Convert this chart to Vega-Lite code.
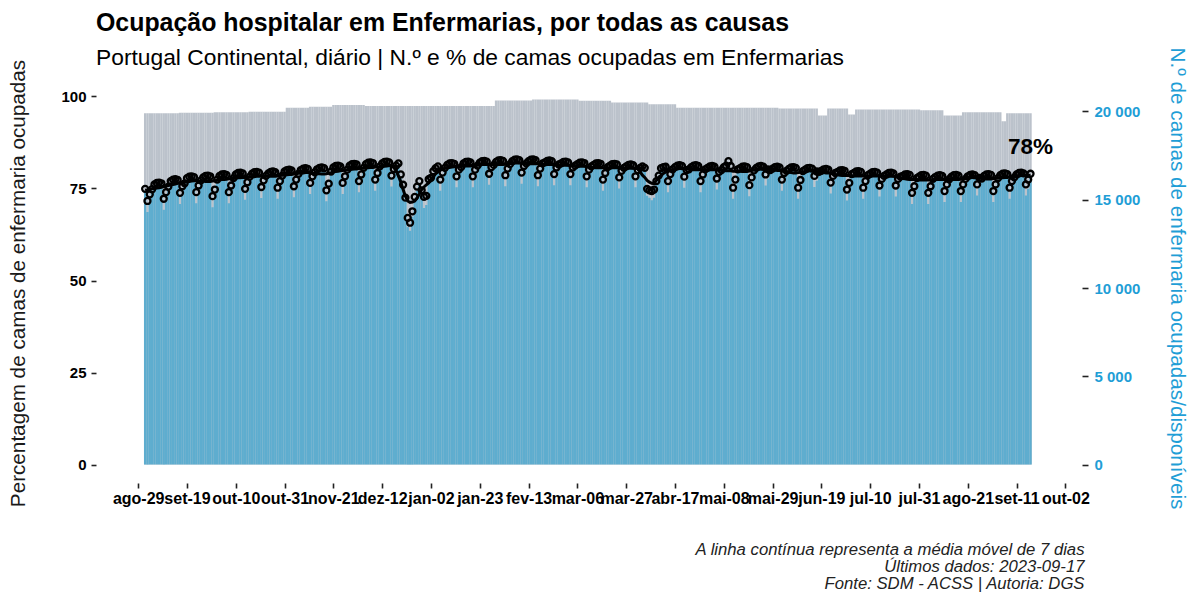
{
"$schema":"https://vega.github.io/schema/vega-lite/v6.json",
"width":986,"height":405,
"autosize":{"type":"none"},
"padding":{"left":96,"top":78,"right":106,"bottom":111},
"background":"white",
"config":{"view":{"stroke":null},"font":"Liberation Sans",
"axis":{"domain":false,"grid":false,"tickColor":"#222222","tickWidth":1.6,"labelFont":"Liberation Sans","titleFont":"Liberation Sans"},
"axisLeft":{"labelColor":"black","labelFontWeight":"bold","labelFontSize":15,"tickSize":5,"labelPadding":5,"titleColor":"#1a1a1a","titleFontSize":20.7,"titleFontWeight":"normal","titleAngle":-90,"titleAlign":"center","titleBaseline":"middle","titleX":-78,"titleY":205},
"axisRight":{"labelColor":"#1F9ED6","labelFontWeight":"bold","labelFontSize":15,"tickSize":6,"labelPadding":6,"titleColor":"#1F9ED6","titleFontSize":20.7,"titleFontWeight":"normal","titleAngle":90,"titleAlign":"center","titleBaseline":"middle","titleX":94,"titleY":200}},
"title":{"text":"Ocupação hospitalar em Enfermarias, por todas as causas","subtitle":"Portugal Continental, diário | N.º e % de camas ocupadas em Enfermarias","anchor":"start","frame":"group","font":"Liberation Sans","fontSize":24.9,"fontWeight":"bold","color":"black","subtitleFont":"Liberation Sans","subtitleFontSize":22.8,"subtitleColor":"black","offset":-23,"subtitlePadding":11},
"data":{"values":[
{"d":"2022-09-01","a":19900,"o":15450,"p":74.9,"m":74.5},
{"d":"2022-09-02","a":19900,"o":14303,"p":71.6,"m":74.6},
{"d":"2022-09-03","a":19900,"o":14783,"p":73.4,"m":74.7},
{"d":"2022-09-04","a":19900,"o":15387,"p":74.8,"m":74.9},
{"d":"2022-09-05","a":19900,"o":15742,"p":76.1,"m":75.0},
{"d":"2022-09-06","a":19900,"o":15742,"p":76.5,"m":75.1},
{"d":"2022-09-07","a":19900,"o":15742,"p":76.6,"m":75.2},
{"d":"2022-09-08","a":19900,"o":15742,"p":76.4,"m":75.3},
{"d":"2022-09-09","a":19900,"o":14428,"p":72.2,"m":75.5},
{"d":"2022-09-10","a":19900,"o":14908,"p":74.0,"m":75.6},
{"d":"2022-09-11","a":19900,"o":15533,"p":75.5,"m":75.8},
{"d":"2022-09-12","a":19900,"o":15929,"p":77.0,"m":75.9},
{"d":"2022-09-13","a":19900,"o":15929,"p":77.4,"m":76.1},
{"d":"2022-09-14","a":19900,"o":15929,"p":77.5,"m":76.2},
{"d":"2022-09-15","a":19900,"o":15929,"p":77.3,"m":76.4},
{"d":"2022-09-16","a":19920,"o":14762,"p":73.8,"m":76.5},
{"d":"2022-09-17","a":19920,"o":15241,"p":75.6,"m":76.6},
{"d":"2022-09-18","a":19920,"o":15721,"p":76.4,"m":76.7},
{"d":"2022-09-19","a":19920,"o":16096,"p":77.8,"m":76.8},
{"d":"2022-09-20","a":19920,"o":16096,"p":78.2,"m":76.9},
{"d":"2022-09-21","a":19920,"o":16096,"p":78.3,"m":77.0},
{"d":"2022-09-22","a":19920,"o":16096,"p":78.1,"m":77.1},
{"d":"2022-09-23","a":19920,"o":14804,"p":74.0,"m":77.1},
{"d":"2022-09-24","a":19920,"o":15283,"p":75.8,"m":77.0},
{"d":"2022-09-25","a":19920,"o":15888,"p":77.2,"m":77.0},
{"d":"2022-09-26","a":19920,"o":16138,"p":78.0,"m":77.0},
{"d":"2022-09-27","a":19920,"o":16138,"p":78.4,"m":76.9},
{"d":"2022-09-28","a":19920,"o":16138,"p":78.5,"m":76.9},
{"d":"2022-09-29","a":19920,"o":16138,"p":78.3,"m":76.9},
{"d":"2022-09-30","a":19920,"o":14574,"p":72.9,"m":77.0},
{"d":"2022-10-01","a":19950,"o":15054,"p":74.7,"m":77.1},
{"d":"2022-10-02","a":19950,"o":15929,"p":77.4,"m":77.2},
{"d":"2022-10-03","a":19950,"o":16221,"p":78.4,"m":77.3},
{"d":"2022-10-04","a":19950,"o":16221,"p":78.8,"m":77.4},
{"d":"2022-10-05","a":19950,"o":16221,"p":78.9,"m":77.4},
{"d":"2022-10-06","a":19950,"o":16221,"p":78.7,"m":77.5},
{"d":"2022-10-07","a":19950,"o":14804,"p":74.0,"m":77.6},
{"d":"2022-10-08","a":19950,"o":15283,"p":75.8,"m":77.7},
{"d":"2022-10-09","a":19950,"o":16013,"p":77.8,"m":77.7},
{"d":"2022-10-10","a":19950,"o":16305,"p":78.8,"m":77.8},
{"d":"2022-10-11","a":19950,"o":16305,"p":79.2,"m":77.9},
{"d":"2022-10-12","a":19950,"o":16305,"p":79.3,"m":77.9},
{"d":"2022-10-13","a":19950,"o":16305,"p":79.1,"m":78.0},
{"d":"2022-10-14","a":19950,"o":14991,"p":74.9,"m":78.0},
{"d":"2022-10-15","a":19950,"o":15471,"p":76.7,"m":78.1},
{"d":"2022-10-16","a":19980,"o":16096,"p":78.2,"m":78.1},
{"d":"2022-10-17","a":19980,"o":16346,"p":79.0,"m":78.2},
{"d":"2022-10-18","a":19980,"o":16346,"p":79.4,"m":78.2},
{"d":"2022-10-19","a":19980,"o":16346,"p":79.5,"m":78.3},
{"d":"2022-10-20","a":19980,"o":16346,"p":79.3,"m":78.3},
{"d":"2022-10-21","a":19980,"o":15095,"p":75.4,"m":78.3},
{"d":"2022-10-22","a":19980,"o":15575,"p":77.2,"m":78.3},
{"d":"2022-10-23","a":19980,"o":16138,"p":78.4,"m":78.3},
{"d":"2022-10-24","a":19980,"o":16367,"p":79.1,"m":78.3},
{"d":"2022-10-25","a":19980,"o":16367,"p":79.5,"m":78.3},
{"d":"2022-10-26","a":19980,"o":16367,"p":79.6,"m":78.3},
{"d":"2022-10-27","a":19980,"o":16367,"p":79.4,"m":78.3},
{"d":"2022-10-28","a":19980,"o":15054,"p":75.2,"m":78.4},
{"d":"2022-10-29","a":19980,"o":15533,"p":77.0,"m":78.5},
{"d":"2022-10-30","a":19980,"o":16159,"p":78.5,"m":78.6},
{"d":"2022-10-31","a":19980,"o":16472,"p":79.6,"m":78.6},
{"d":"2022-11-01","a":20210,"o":16472,"p":80.0,"m":78.7},
{"d":"2022-11-02","a":20210,"o":16472,"p":80.1,"m":78.8},
{"d":"2022-11-03","a":20210,"o":16472,"p":79.9,"m":78.8},
{"d":"2022-11-04","a":20210,"o":15137,"p":75.6,"m":78.9},
{"d":"2022-11-05","a":20210,"o":15617,"p":77.4,"m":79.0},
{"d":"2022-11-06","a":20210,"o":16263,"p":79.0,"m":79.1},
{"d":"2022-11-07","a":20210,"o":16555,"p":80.0,"m":79.1},
{"d":"2022-11-08","a":20210,"o":16555,"p":80.4,"m":79.2},
{"d":"2022-11-09","a":20210,"o":16555,"p":80.5,"m":79.3},
{"d":"2022-11-10","a":20210,"o":16555,"p":80.3,"m":79.3},
{"d":"2022-11-11","a":20260,"o":15325,"p":76.5,"m":79.2},
{"d":"2022-11-12","a":20260,"o":15804,"p":78.3,"m":79.1},
{"d":"2022-11-13","a":20260,"o":16346,"p":79.4,"m":79.1},
{"d":"2022-11-14","a":20260,"o":16597,"p":80.2,"m":79.0},
{"d":"2022-11-15","a":20260,"o":16597,"p":80.6,"m":79.0},
{"d":"2022-11-16","a":20260,"o":16597,"p":80.7,"m":78.9},
{"d":"2022-11-17","a":20260,"o":16597,"p":80.5,"m":78.9},
{"d":"2022-11-18","a":20260,"o":14908,"p":74.5,"m":79.0},
{"d":"2022-11-19","a":20260,"o":15387,"p":76.3,"m":79.2},
{"d":"2022-11-20","a":20260,"o":16388,"p":79.6,"m":79.3},
{"d":"2022-11-21","a":20370,"o":16701,"p":80.7,"m":79.5},
{"d":"2022-11-22","a":20370,"o":16701,"p":81.1,"m":79.6},
{"d":"2022-11-23","a":20370,"o":16701,"p":81.2,"m":79.7},
{"d":"2022-11-24","a":20370,"o":16701,"p":81.0,"m":79.8},
{"d":"2022-11-25","a":20370,"o":15325,"p":76.5,"m":79.9},
{"d":"2022-11-26","a":20370,"o":15804,"p":78.3,"m":80.0},
{"d":"2022-11-27","a":20370,"o":16492,"p":80.1,"m":80.1},
{"d":"2022-11-28","a":20370,"o":16805,"p":81.2,"m":80.1},
{"d":"2022-11-29","a":20370,"o":16805,"p":81.6,"m":80.2},
{"d":"2022-11-30","a":20370,"o":16805,"p":81.7,"m":80.3},
{"d":"2022-12-01","a":20370,"o":16805,"p":81.5,"m":80.3},
{"d":"2022-12-02","a":20370,"o":15429,"p":77.0,"m":80.4},
{"d":"2022-12-03","a":20370,"o":15909,"p":78.8,"m":80.5},
{"d":"2022-12-04","a":20370,"o":16597,"p":80.6,"m":80.5},
{"d":"2022-12-05","a":20300,"o":16889,"p":81.6,"m":80.6},
{"d":"2022-12-06","a":20300,"o":16889,"p":82.0,"m":80.6},
{"d":"2022-12-07","a":20300,"o":16889,"p":82.1,"m":80.7},
{"d":"2022-12-08","a":20300,"o":16889,"p":81.9,"m":80.7},
{"d":"2022-12-09","a":20300,"o":15512,"p":77.4,"m":80.8},
{"d":"2022-12-10","a":20300,"o":15992,"p":79.2,"m":80.8},
{"d":"2022-12-11","a":20300,"o":16680,"p":81.0,"m":80.9},
{"d":"2022-12-12","a":20300,"o":16930,"p":81.8,"m":80.9},
{"d":"2022-12-13","a":20300,"o":16930,"p":82.2,"m":81.0},
{"d":"2022-12-14","a":20300,"o":16930,"p":82.3,"m":81.1},
{"d":"2022-12-15","a":20300,"o":16930,"p":82.1,"m":81.2},
{"d":"2022-12-16","a":20300,"o":15742,"p":78.5,"m":81.2},
{"d":"2022-12-17","a":20300,"o":16221,"p":80.3,"m":80.7},
{"d":"2022-12-18","a":20300,"o":16722,"p":81.2,"m":79.8},
{"d":"2022-12-19","a":20300,"o":16847,"p":81.8,"m":78.4},
{"d":"2022-12-20","a":20300,"o":16221,"p":78.8,"m":76.8},
{"d":"2022-12-21","a":20300,"o":15638,"p":76.0,"m":74.7},
{"d":"2022-12-22","a":20300,"o":14908,"p":72.5,"m":72.9},
{"d":"2022-12-23","a":20300,"o":13448,"p":67.0,"m":71.6},
{"d":"2022-12-24","a":20300,"o":13240,"p":65.7,"m":71.2},
{"d":"2022-12-25","a":20300,"o":14032,"p":68.8,"m":71.3},
{"d":"2022-12-26","a":20300,"o":14908,"p":72.7,"m":71.6},
{"d":"2022-12-27","a":20300,"o":15492,"p":75.5,"m":72.4},
{"d":"2022-12-28","a":20300,"o":15804,"p":77.0,"m":73.5},
{"d":"2022-12-29","a":20300,"o":15283,"p":74.5,"m":74.7},
{"d":"2022-12-30","a":20300,"o":14532,"p":72.7,"m":75.4},
{"d":"2022-12-31","a":20300,"o":14699,"p":73.0,"m":76.0},
{"d":"2023-01-01","a":20300,"o":15909,"p":77.5,"m":76.5},
{"d":"2023-01-02","a":20300,"o":16075,"p":77.9,"m":77.5},
{"d":"2023-01-03","a":20300,"o":16451,"p":79.7,"m":78.1},
{"d":"2023-01-04","a":20300,"o":16617,"p":80.5,"m":79.0},
{"d":"2023-01-05","a":20300,"o":16722,"p":81.0,"m":79.5},
{"d":"2023-01-06","a":20300,"o":15512,"p":77.4,"m":80.0},
{"d":"2023-01-07","a":20300,"o":16013,"p":79.3,"m":80.3},
{"d":"2023-01-08","a":20300,"o":16597,"p":80.6,"m":80.5},
{"d":"2023-01-09","a":20300,"o":16847,"p":81.4,"m":80.6},
{"d":"2023-01-10","a":20300,"o":16847,"p":81.8,"m":80.7},
{"d":"2023-01-11","a":20300,"o":16847,"p":81.9,"m":80.8},
{"d":"2023-01-12","a":20300,"o":16847,"p":81.7,"m":80.9},
{"d":"2023-01-13","a":20300,"o":15700,"p":78.3,"m":81.0},
{"d":"2023-01-14","a":20300,"o":16180,"p":80.1,"m":81.0},
{"d":"2023-01-15","a":20300,"o":16638,"p":80.8,"m":81.0},
{"d":"2023-01-16","a":20300,"o":16930,"p":81.8,"m":81.0},
{"d":"2023-01-17","a":20300,"o":16930,"p":82.2,"m":81.1},
{"d":"2023-01-18","a":20300,"o":16930,"p":82.3,"m":81.1},
{"d":"2023-01-19","a":20300,"o":16930,"p":82.1,"m":81.1},
{"d":"2023-01-20","a":20300,"o":15700,"p":78.3,"m":81.2},
{"d":"2023-01-21","a":20300,"o":16180,"p":80.1,"m":81.3},
{"d":"2023-01-22","a":20300,"o":16722,"p":81.2,"m":81.4},
{"d":"2023-01-23","a":20300,"o":16972,"p":82.0,"m":81.4},
{"d":"2023-01-24","a":20300,"o":16972,"p":82.4,"m":81.5},
{"d":"2023-01-25","a":20300,"o":16972,"p":82.5,"m":81.5},
{"d":"2023-01-26","a":20300,"o":16972,"p":82.3,"m":81.5},
{"d":"2023-01-27","a":20300,"o":15846,"p":79.0,"m":81.5},
{"d":"2023-01-28","a":20300,"o":16326,"p":80.8,"m":81.5},
{"d":"2023-01-29","a":20300,"o":16763,"p":81.4,"m":81.5},
{"d":"2023-01-30","a":20620,"o":17014,"p":82.2,"m":81.5},
{"d":"2023-01-31","a":20620,"o":17014,"p":82.6,"m":81.5},
{"d":"2023-02-01","a":20620,"o":17014,"p":82.7,"m":81.5},
{"d":"2023-02-02","a":20620,"o":17014,"p":82.5,"m":81.5},
{"d":"2023-02-03","a":20620,"o":15763,"p":78.6,"m":81.6},
{"d":"2023-02-04","a":20620,"o":16242,"p":80.4,"m":81.7},
{"d":"2023-02-05","a":20620,"o":16805,"p":81.6,"m":81.8},
{"d":"2023-02-06","a":20620,"o":17055,"p":82.4,"m":81.8},
{"d":"2023-02-07","a":20620,"o":17055,"p":82.8,"m":81.9},
{"d":"2023-02-08","a":20620,"o":17055,"p":82.9,"m":81.9},
{"d":"2023-02-09","a":20620,"o":17055,"p":82.7,"m":81.9},
{"d":"2023-02-10","a":20620,"o":15909,"p":79.3,"m":81.9},
{"d":"2023-02-11","a":20620,"o":16388,"p":81.1,"m":81.8},
{"d":"2023-02-12","a":20620,"o":16847,"p":81.8,"m":81.8},
{"d":"2023-02-13","a":20620,"o":17055,"p":82.4,"m":81.8},
{"d":"2023-02-14","a":20620,"o":17055,"p":82.8,"m":81.7},
{"d":"2023-02-15","a":20680,"o":17055,"p":82.9,"m":81.7},
{"d":"2023-02-16","a":20680,"o":17055,"p":82.7,"m":81.7},
{"d":"2023-02-17","a":20680,"o":15763,"p":78.6,"m":81.7},
{"d":"2023-02-18","a":20680,"o":16242,"p":80.4,"m":81.6},
{"d":"2023-02-19","a":20680,"o":16847,"p":81.8,"m":81.6},
{"d":"2023-02-20","a":20680,"o":16993,"p":82.1,"m":81.6},
{"d":"2023-02-21","a":20680,"o":16993,"p":82.5,"m":81.5},
{"d":"2023-02-22","a":20680,"o":16993,"p":82.6,"m":81.5},
{"d":"2023-02-23","a":20680,"o":16993,"p":82.4,"m":81.5},
{"d":"2023-02-24","a":20680,"o":15825,"p":78.9,"m":81.4},
{"d":"2023-02-25","a":20680,"o":16305,"p":80.7,"m":81.4},
{"d":"2023-02-26","a":20680,"o":16784,"p":81.5,"m":81.4},
{"d":"2023-02-27","a":20680,"o":16930,"p":81.8,"m":81.4},
{"d":"2023-02-28","a":20680,"o":16930,"p":82.2,"m":81.3},
{"d":"2023-03-01","a":20680,"o":16930,"p":82.3,"m":81.3},
{"d":"2023-03-02","a":20680,"o":16930,"p":82.1,"m":81.3},
{"d":"2023-03-03","a":20680,"o":15825,"p":78.9,"m":81.2},
{"d":"2023-03-04","a":20680,"o":16305,"p":80.7,"m":81.2},
{"d":"2023-03-05","a":20680,"o":16722,"p":81.2,"m":81.1},
{"d":"2023-03-06","a":20680,"o":16889,"p":81.6,"m":81.1},
{"d":"2023-03-07","a":20600,"o":16889,"p":82.0,"m":81.0},
{"d":"2023-03-08","a":20600,"o":16889,"p":82.1,"m":81.0},
{"d":"2023-03-09","a":20600,"o":16889,"p":81.9,"m":81.0},
{"d":"2023-03-10","a":20600,"o":15700,"p":78.3,"m":80.9},
{"d":"2023-03-11","a":20600,"o":16180,"p":80.1,"m":80.8},
{"d":"2023-03-12","a":20600,"o":16680,"p":81.0,"m":80.7},
{"d":"2023-03-13","a":20600,"o":16847,"p":81.4,"m":80.7},
{"d":"2023-03-14","a":20600,"o":16847,"p":81.8,"m":80.6},
{"d":"2023-03-15","a":20600,"o":16847,"p":81.9,"m":80.6},
{"d":"2023-03-16","a":20600,"o":16847,"p":81.7,"m":80.6},
{"d":"2023-03-17","a":20600,"o":15512,"p":77.4,"m":80.6},
{"d":"2023-03-18","a":20600,"o":15992,"p":79.2,"m":80.6},
{"d":"2023-03-19","a":20600,"o":16638,"p":80.8,"m":80.6},
{"d":"2023-03-20","a":20600,"o":16805,"p":81.2,"m":80.6},
{"d":"2023-03-21","a":20500,"o":16805,"p":81.6,"m":80.6},
{"d":"2023-03-22","a":20500,"o":16805,"p":81.7,"m":80.6},
{"d":"2023-03-23","a":20500,"o":16805,"p":81.5,"m":80.6},
{"d":"2023-03-24","a":20500,"o":15638,"p":78.0,"m":80.6},
{"d":"2023-03-25","a":20500,"o":16117,"p":79.8,"m":80.5},
{"d":"2023-03-26","a":20500,"o":16597,"p":80.6,"m":80.5},
{"d":"2023-03-27","a":20500,"o":16763,"p":81.0,"m":80.5},
{"d":"2023-03-28","a":20500,"o":16763,"p":81.4,"m":80.5},
{"d":"2023-03-29","a":20500,"o":16763,"p":81.5,"m":80.5},
{"d":"2023-03-30","a":20500,"o":16763,"p":81.3,"m":80.5},
{"d":"2023-03-31","a":20500,"o":15700,"p":78.3,"m":80.4},
{"d":"2023-04-01","a":20500,"o":16180,"p":80.0,"m":80.5},
{"d":"2023-04-02","a":20500,"o":16555,"p":80.6,"m":79.5},
{"d":"2023-04-03","a":20500,"o":16722,"p":81.0,"m":78.6},
{"d":"2023-04-04","a":20500,"o":16597,"p":80.6,"m":78.0},
{"d":"2023-04-05","a":20500,"o":15221,"p":74.9,"m":77.2},
{"d":"2023-04-06","a":20400,"o":15116,"p":74.5,"m":76.7},
{"d":"2023-04-07","a":20400,"o":14970,"p":74.3,"m":76.4},
{"d":"2023-04-08","a":20400,"o":15116,"p":74.7,"m":76.3},
{"d":"2023-04-09","a":20400,"o":15846,"p":77.0,"m":77.2},
{"d":"2023-04-10","a":20400,"o":16159,"p":78.5,"m":78.1},
{"d":"2023-04-11","a":20400,"o":16617,"p":80.5,"m":78.5},
{"d":"2023-04-12","a":20400,"o":16680,"p":80.8,"m":79.1},
{"d":"2023-04-13","a":20400,"o":16701,"p":80.9,"m":79.5},
{"d":"2023-04-14","a":20400,"o":15429,"p":77.0,"m":79.8},
{"d":"2023-04-15","a":20400,"o":15929,"p":78.9,"m":80.0},
{"d":"2023-04-16","a":20400,"o":16513,"p":80.2,"m":80.0},
{"d":"2023-04-17","a":20400,"o":16722,"p":80.8,"m":80.2},
{"d":"2023-04-18","a":20210,"o":16722,"p":81.2,"m":80.3},
{"d":"2023-04-19","a":20210,"o":16722,"p":81.3,"m":80.4},
{"d":"2023-04-20","a":20210,"o":16722,"p":81.1,"m":80.4},
{"d":"2023-04-21","a":20210,"o":15679,"p":78.2,"m":80.4},
{"d":"2023-04-22","a":20210,"o":16159,"p":80.0,"m":80.3},
{"d":"2023-04-23","a":20210,"o":16513,"p":80.2,"m":80.3},
{"d":"2023-04-24","a":20210,"o":16722,"p":80.8,"m":80.2},
{"d":"2023-04-25","a":20210,"o":16722,"p":81.2,"m":80.1},
{"d":"2023-04-26","a":20210,"o":16722,"p":81.3,"m":80.1},
{"d":"2023-04-27","a":20210,"o":16722,"p":81.1,"m":80.1},
{"d":"2023-04-28","a":20210,"o":15429,"p":77.0,"m":80.1},
{"d":"2023-04-29","a":20210,"o":15909,"p":78.8,"m":80.1},
{"d":"2023-04-30","a":20210,"o":16513,"p":80.2,"m":80.1},
{"d":"2023-05-01","a":20210,"o":16680,"p":80.6,"m":80.1},
{"d":"2023-05-02","a":20210,"o":16680,"p":81.0,"m":80.1},
{"d":"2023-05-03","a":20210,"o":16680,"p":81.1,"m":80.1},
{"d":"2023-05-04","a":20210,"o":16680,"p":80.9,"m":80.1},
{"d":"2023-05-05","a":20210,"o":15575,"p":77.7,"m":80.0},
{"d":"2023-05-06","a":20210,"o":16055,"p":79.5,"m":80.0},
{"d":"2023-05-07","a":20210,"o":16472,"p":80.0,"m":79.9},
{"d":"2023-05-08","a":20210,"o":16722,"p":80.8,"m":79.9},
{"d":"2023-05-09","a":20210,"o":16722,"p":81.2,"m":79.8},
{"d":"2023-05-10","a":20210,"o":16972,"p":82.4,"m":79.8},
{"d":"2023-05-11","a":20210,"o":16722,"p":81.1,"m":79.8},
{"d":"2023-05-12","a":20210,"o":15054,"p":75.2,"m":79.7},
{"d":"2023-05-13","a":20210,"o":15617,"p":77.4,"m":79.7},
{"d":"2023-05-14","a":20210,"o":16513,"p":80.2,"m":79.7},
{"d":"2023-05-15","a":20210,"o":16659,"p":80.5,"m":79.7},
{"d":"2023-05-16","a":20210,"o":16659,"p":80.9,"m":79.6},
{"d":"2023-05-17","a":20210,"o":16659,"p":81.0,"m":79.6},
{"d":"2023-05-18","a":20210,"o":16659,"p":80.8,"m":79.6},
{"d":"2023-05-19","a":20210,"o":15200,"p":75.9,"m":79.7},
{"d":"2023-05-20","a":20210,"o":15742,"p":78.0,"m":79.9},
{"d":"2023-05-21","a":20210,"o":16451,"p":79.9,"m":80.0},
{"d":"2023-05-22","a":20210,"o":16680,"p":80.6,"m":80.1},
{"d":"2023-05-23","a":20210,"o":16680,"p":81.0,"m":80.2},
{"d":"2023-05-24","a":20210,"o":16680,"p":81.1,"m":80.3},
{"d":"2023-05-25","a":20210,"o":16680,"p":80.9,"m":80.4},
{"d":"2023-05-26","a":20210,"o":15804,"p":78.8,"m":80.3},
{"d":"2023-05-27","a":20210,"o":16200,"p":80.2,"m":80.2},
{"d":"2023-05-28","a":20210,"o":16472,"p":80.0,"m":80.1},
{"d":"2023-05-29","a":20210,"o":16638,"p":80.4,"m":80.0},
{"d":"2023-05-30","a":20210,"o":16638,"p":80.8,"m":80.0},
{"d":"2023-05-31","a":20210,"o":16638,"p":80.9,"m":79.9},
{"d":"2023-06-01","a":20160,"o":16638,"p":80.7,"m":79.9},
{"d":"2023-06-02","a":20160,"o":15512,"p":77.4,"m":79.8},
{"d":"2023-06-03","a":20160,"o":15992,"p":79.2,"m":79.6},
{"d":"2023-06-04","a":20160,"o":16430,"p":79.8,"m":79.5},
{"d":"2023-06-05","a":20160,"o":16617,"p":80.3,"m":79.4},
{"d":"2023-06-06","a":20160,"o":16617,"p":80.7,"m":79.3},
{"d":"2023-06-07","a":20160,"o":16617,"p":80.8,"m":79.2},
{"d":"2023-06-08","a":20160,"o":16617,"p":80.6,"m":79.2},
{"d":"2023-06-09","a":20160,"o":15054,"p":75.2,"m":79.3},
{"d":"2023-06-10","a":20160,"o":15596,"p":77.3,"m":79.4},
{"d":"2023-06-11","a":20160,"o":16409,"p":79.7,"m":79.5},
{"d":"2023-06-12","a":20160,"o":16576,"p":80.1,"m":79.6},
{"d":"2023-06-13","a":20160,"o":16576,"p":80.5,"m":79.7},
{"d":"2023-06-14","a":20160,"o":16576,"p":80.6,"m":79.8},
{"d":"2023-06-15","a":20160,"o":16576,"p":80.4,"m":79.9},
{"d":"2023-06-16","a":20160,"o":15721,"p":78.4,"m":79.8},
{"d":"2023-06-17","a":20160,"o":16075,"p":79.6,"m":79.6},
{"d":"2023-06-18","a":19770,"o":16367,"p":79.5,"m":79.5},
{"d":"2023-06-19","a":19770,"o":16513,"p":79.8,"m":79.4},
{"d":"2023-06-20","a":19770,"o":16513,"p":80.2,"m":79.3},
{"d":"2023-06-21","a":19770,"o":16513,"p":80.3,"m":79.2},
{"d":"2023-06-22","a":20170,"o":16513,"p":80.1,"m":79.2},
{"d":"2023-06-23","a":20170,"o":15346,"p":76.6,"m":79.1},
{"d":"2023-06-24","a":20170,"o":15825,"p":78.4,"m":79.0},
{"d":"2023-06-25","a":20170,"o":16305,"p":79.2,"m":78.8},
{"d":"2023-06-26","a":20170,"o":16451,"p":79.5,"m":78.7},
{"d":"2023-06-27","a":20170,"o":16451,"p":79.9,"m":78.6},
{"d":"2023-06-28","a":20170,"o":16451,"p":80.0,"m":78.5},
{"d":"2023-06-29","a":20170,"o":16451,"p":79.8,"m":78.5},
{"d":"2023-06-30","a":20170,"o":14949,"p":74.7,"m":78.5},
{"d":"2023-07-01","a":19830,"o":15429,"p":76.5,"m":78.5},
{"d":"2023-07-02","a":19830,"o":16242,"p":78.9,"m":78.4},
{"d":"2023-07-03","a":19830,"o":16388,"p":79.2,"m":78.4},
{"d":"2023-07-04","a":20110,"o":16388,"p":79.6,"m":78.4},
{"d":"2023-07-05","a":20110,"o":16388,"p":79.7,"m":78.4},
{"d":"2023-07-06","a":20110,"o":16388,"p":79.5,"m":78.4},
{"d":"2023-07-07","a":20110,"o":15054,"p":75.2,"m":78.4},
{"d":"2023-07-08","a":20110,"o":15533,"p":77.0,"m":78.4},
{"d":"2023-07-09","a":20110,"o":16180,"p":78.6,"m":78.4},
{"d":"2023-07-10","a":20110,"o":16346,"p":79.0,"m":78.4},
{"d":"2023-07-11","a":20110,"o":16346,"p":79.4,"m":78.4},
{"d":"2023-07-12","a":20110,"o":16346,"p":79.5,"m":78.4},
{"d":"2023-07-13","a":20110,"o":16346,"p":79.3,"m":78.4},
{"d":"2023-07-14","a":20110,"o":15179,"p":75.8,"m":78.4},
{"d":"2023-07-15","a":20110,"o":15658,"p":77.6,"m":78.4},
{"d":"2023-07-16","a":20110,"o":16138,"p":78.4,"m":78.3},
{"d":"2023-07-17","a":20110,"o":16305,"p":78.8,"m":78.3},
{"d":"2023-07-18","a":20110,"o":16305,"p":79.2,"m":78.3},
{"d":"2023-07-19","a":20110,"o":16305,"p":79.3,"m":78.3},
{"d":"2023-07-20","a":20110,"o":16305,"p":79.1,"m":78.3},
{"d":"2023-07-21","a":20110,"o":15179,"p":75.8,"m":78.2},
{"d":"2023-07-22","a":20110,"o":15658,"p":77.6,"m":78.0},
{"d":"2023-07-23","a":20110,"o":16096,"p":78.2,"m":77.9},
{"d":"2023-07-24","a":20110,"o":16221,"p":78.4,"m":77.7},
{"d":"2023-07-25","a":20110,"o":16221,"p":78.8,"m":77.6},
{"d":"2023-07-26","a":20110,"o":16221,"p":78.9,"m":77.5},
{"d":"2023-07-27","a":20110,"o":16221,"p":78.7,"m":77.4},
{"d":"2023-07-28","a":20110,"o":14762,"p":73.8,"m":77.4},
{"d":"2023-07-29","a":20110,"o":15241,"p":75.6,"m":77.4},
{"d":"2023-07-30","a":20110,"o":16013,"p":77.8,"m":77.4},
{"d":"2023-07-31","a":20110,"o":16180,"p":78.2,"m":77.3},
{"d":"2023-08-01","a":20070,"o":16180,"p":78.6,"m":77.3},
{"d":"2023-08-02","a":20070,"o":16180,"p":78.7,"m":77.3},
{"d":"2023-08-03","a":20070,"o":16180,"p":78.5,"m":77.3},
{"d":"2023-08-04","a":20070,"o":14762,"p":73.8,"m":77.3},
{"d":"2023-08-05","a":20070,"o":15241,"p":75.6,"m":77.3},
{"d":"2023-08-06","a":20070,"o":15971,"p":77.6,"m":77.4},
{"d":"2023-08-07","a":20070,"o":16159,"p":78.1,"m":77.4},
{"d":"2023-08-08","a":20070,"o":16159,"p":78.5,"m":77.4},
{"d":"2023-08-09","a":20070,"o":16159,"p":78.6,"m":77.4},
{"d":"2023-08-10","a":20070,"o":16159,"p":78.4,"m":77.4},
{"d":"2023-08-11","a":19770,"o":14866,"p":74.3,"m":77.4},
{"d":"2023-08-12","a":19770,"o":15346,"p":76.1,"m":77.4},
{"d":"2023-08-13","a":19770,"o":15950,"p":77.5,"m":77.4},
{"d":"2023-08-14","a":19770,"o":16180,"p":78.2,"m":77.4},
{"d":"2023-08-15","a":19770,"o":16180,"p":78.6,"m":77.4},
{"d":"2023-08-16","a":19770,"o":16180,"p":78.7,"m":77.4},
{"d":"2023-08-17","a":19770,"o":16180,"p":78.5,"m":77.4},
{"d":"2023-08-18","a":19770,"o":14866,"p":74.3,"m":77.5},
{"d":"2023-08-19","a":19960,"o":15346,"p":76.1,"m":77.6},
{"d":"2023-08-20","a":19960,"o":15971,"p":77.6,"m":77.7},
{"d":"2023-08-21","a":19960,"o":16200,"p":78.3,"m":77.8},
{"d":"2023-08-22","a":19960,"o":16200,"p":78.7,"m":77.9},
{"d":"2023-08-23","a":19960,"o":16200,"p":78.8,"m":78.0},
{"d":"2023-08-24","a":19960,"o":16200,"p":78.6,"m":78.0},
{"d":"2023-08-25","a":19960,"o":15241,"p":76.1,"m":77.9},
{"d":"2023-08-26","a":19960,"o":15721,"p":77.9,"m":77.8},
{"d":"2023-08-27","a":19960,"o":15992,"p":77.7,"m":77.8},
{"d":"2023-08-28","a":19960,"o":16221,"p":78.4,"m":77.7},
{"d":"2023-08-29","a":19960,"o":16221,"p":78.8,"m":77.6},
{"d":"2023-08-30","a":19960,"o":16221,"p":78.9,"m":77.6},
{"d":"2023-08-31","a":19960,"o":16221,"p":78.7,"m":77.6},
{"d":"2023-09-01","a":19960,"o":14866,"p":74.3,"m":77.7},
{"d":"2023-09-02","a":19960,"o":15346,"p":76.1,"m":77.8},
{"d":"2023-09-03","a":19960,"o":16013,"p":77.8,"m":77.8},
{"d":"2023-09-04","a":19960,"o":16263,"p":78.6,"m":77.9},
{"d":"2023-09-05","a":19450,"o":16263,"p":79.0,"m":77.9},
{"d":"2023-09-06","a":19450,"o":16263,"p":79.1,"m":78.0},
{"d":"2023-09-07","a":19890,"o":16263,"p":78.9,"m":78.0},
{"d":"2023-09-08","a":19890,"o":15054,"p":75.2,"m":78.1},
{"d":"2023-09-09","a":19890,"o":15533,"p":77.0,"m":78.2},
{"d":"2023-09-10","a":19890,"o":16055,"p":78.0,"m":78.3},
{"d":"2023-09-11","a":19890,"o":16305,"p":78.8,"m":78.4},
{"d":"2023-09-12","a":19890,"o":16305,"p":79.2,"m":78.4},
{"d":"2023-09-13","a":19890,"o":16305,"p":79.3,"m":78.5},
{"d":"2023-09-14","a":19890,"o":16305,"p":79.1,"m":78.5},
{"d":"2023-09-15","a":19890,"o":15241,"p":76.1,"m":78.5},
{"d":"2023-09-16","a":19890,"o":15617,"p":77.4,"m":78.6},
{"d":"2023-09-17","a":19890,"o":16346,"p":79.0,"m":78.6,"lbl":"78%"}
]},
"encoding":{"x":{"field":"d","type":"temporal","scale":{"type":"utc","nice":false,"domain":[{"year":2022,"month":8,"date":13,"utc":true},{"year":2023,"month":10,"date":7,"utc":true}]},
"axis":{"values":[{"year":2022,"month":8,"date":29,"utc":true},{"year":2022,"month":9,"date":19,"utc":true},{"year":2022,"month":10,"date":10,"utc":true},{"year":2022,"month":10,"date":31,"utc":true},{"year":2022,"month":11,"date":21,"utc":true},{"year":2022,"month":12,"date":12,"utc":true},{"year":2023,"month":1,"date":2,"utc":true},{"year":2023,"month":1,"date":23,"utc":true},{"year":2023,"month":2,"date":13,"utc":true},{"year":2023,"month":3,"date":6,"utc":true},{"year":2023,"month":3,"date":27,"utc":true},{"year":2023,"month":4,"date":17,"utc":true},{"year":2023,"month":5,"date":8,"utc":true},{"year":2023,"month":5,"date":29,"utc":true},{"year":2023,"month":6,"date":19,"utc":true},{"year":2023,"month":7,"date":10,"utc":true},{"year":2023,"month":7,"date":31,"utc":true},{"year":2023,"month":8,"date":21,"utc":true},{"year":2023,"month":9,"date":11,"utc":true},{"year":2023,"month":10,"date":2,"utc":true}],
"labelExpr":"['jan','fev','mar','abr','mai','jun','jul','ago','set','out','nov','dez'][utcmonth(datum.value)] + '-' + utcFormat(datum.value, '%d')",
"labelFontWeight":"bold","labelFontSize":16,"labelColor":"black","tickSize":5,"labelPadding":2,"labelOverlap":false,"labelFlush":false,
"title":["A linha contínua representa a média móvel de 7 dias","Últimos dados: 2023-09-17","Fonte: SDM - ACSS | Autoria: DGS"],
"titleFontStyle":"italic","titleFontWeight":"normal","titleFontSize":16.7,"titleColor":"#222222","titleAlign":"right","titleAnchor":"end","titleBaseline":"alphabetic","titleX":988,"titleY":71,"titleLineHeight":17}}},
"layer":[
{"layer":[
{"mark":{"type":"bar","width":2.35,"color":"#BBC2CB"},"encoding":{"y":{"field":"a","type":"quantitative","scale":{"domain":[-1042.5,21892.5],"nice":false,"zero":false},"axis":{"orient":"right","values":[0,5000,10000,15000,20000],"labelExpr":"replace(format(datum.value, ','), ',', ' ')","title":"N.º de camas de enfermaria ocupadas/disponíveis"}}}},
{"mark":{"type":"bar","width":2.35,"color":"#5EADCF"},"encoding":{"y":{"field":"o","type":"quantitative","axis":{"orient":"right","values":[0,5000,10000,15000,20000],"labelExpr":"replace(format(datum.value, ','), ',', ' ')","title":"N.º de camas de enfermaria ocupadas/disponíveis"}}}}
]},
{"layer":[
{"mark":{"type":"line","color":"black","strokeWidth":3},"encoding":{"y":{"field":"m","type":"quantitative","scale":{"domain":[-5,105],"nice":false,"zero":false},"axis":{"orient":"left","values":[0,25,50,75,100],"title":"Percentagem de camas de enfermaria ocupadas"}}}},
{"mark":{"type":"point","shape":"circle","filled":false,"color":"black","strokeWidth":2.3,"size":36,"opacity":1},"encoding":{"y":{"field":"p","type":"quantitative","axis":{"orient":"left","values":[0,25,50,75,100],"title":"Percentagem de camas de enfermaria ocupadas"}}}},
{"transform":[{"filter":"datum.lbl"}],"mark":{"type":"text","fontSize":22.5,"fontWeight":"bold","color":"black","align":"center","baseline":"alphabetic","dy":-20},"encoding":{"y":{"field":"p","type":"quantitative","axis":{"orient":"left","values":[0,25,50,75,100],"title":"Percentagem de camas de enfermaria ocupadas"}},"text":{"field":"lbl"}}}
]}
],
"resolve":{"scale":{"y":"independent"}}
}
